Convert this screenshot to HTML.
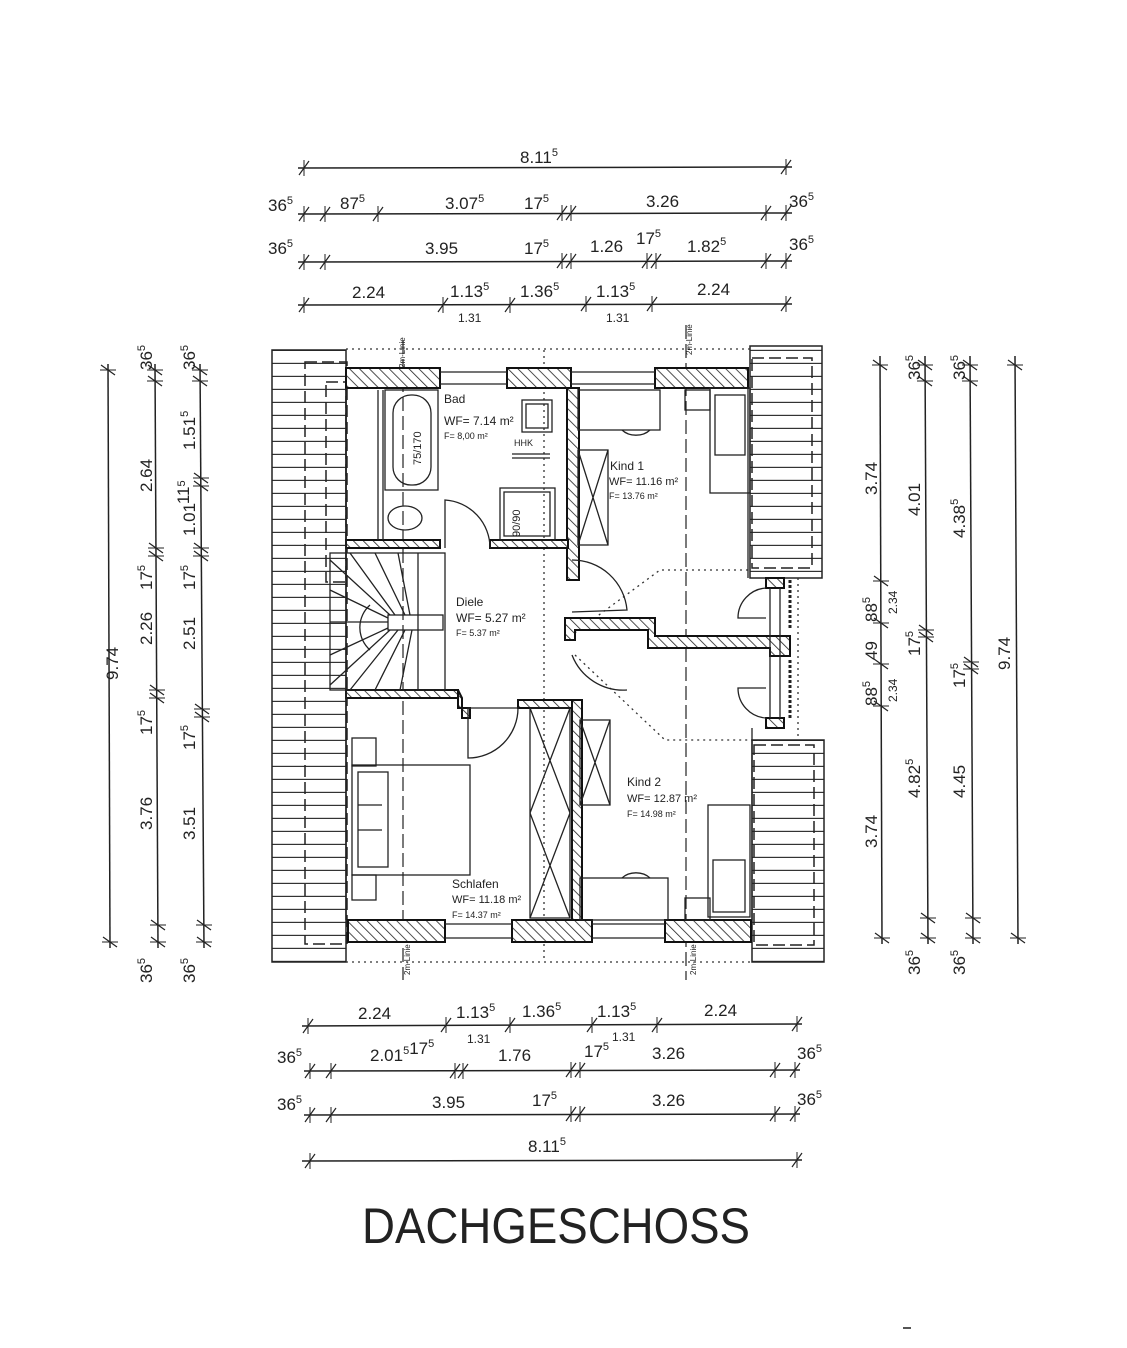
<!DOCTYPE html>
<html><head><meta charset="utf-8">
<style>
html,body{margin:0;padding:0;background:#fff;}
svg{display:block;}
text{font-family:"Liberation Sans",Arial,sans-serif;fill:#222;}
</style></head>
<body>
<svg width="1127" height="1348" viewBox="0 0 1127 1348" xmlns="http://www.w3.org/2000/svg">
<defs>
<pattern id="h" patternUnits="userSpaceOnUse" width="7" height="7" patternTransform="rotate(-45)">
<rect width="7" height="7" fill="#fff"/><line x1="0" y1="0" x2="0" y2="7" stroke="#222" stroke-width="1.6"/>
</pattern>
<pattern id="roof" patternUnits="userSpaceOnUse" width="10" height="13">
<rect width="10" height="13" fill="#fff"/><line x1="0" y1="12.5" x2="10" y2="12.5" stroke="#333" stroke-width="1.4"/>
</pattern>
<g id="tk"><line x1="-5" y1="7" x2="5" y2="-7" stroke="#222" stroke-width="1.2"/><line x1="0" y1="-8" x2="0" y2="8" stroke="#222" stroke-width="1"/></g>
<g id="tv"><line x1="-7" y1="-5" x2="7" y2="5" stroke="#222" stroke-width="1.2"/><line x1="-8" y1="0" x2="8" y2="0" stroke="#222" stroke-width="1"/></g>
</defs>

<g stroke="#222" stroke-width="1.5">
<line x1="298" y1="168" x2="792" y2="167"/>
<line x1="298" y1="214" x2="792" y2="213"/>
<line x1="298" y1="262" x2="792" y2="261"/>
<line x1="298" y1="305" x2="792" y2="304"/>
<line x1="302" y1="1026" x2="802" y2="1024"/>
<line x1="304" y1="1071" x2="800" y2="1070"/>
<line x1="304" y1="1115" x2="800" y2="1114"/>
<line x1="302" y1="1161" x2="802" y2="1160"/>
<line x1="108" y1="364" x2="110" y2="948"/>
<line x1="155" y1="364" x2="158" y2="948"/>
<line x1="200" y1="364" x2="204" y2="948"/>
<line x1="880" y1="356" x2="882" y2="944"/>
<line x1="925" y1="356" x2="928" y2="944"/>
<line x1="970" y1="356" x2="973" y2="944"/>
<line x1="1015" y1="356" x2="1018" y2="944"/>
</g>
<g>
<use href="#tk" x="304" y="168"/><use href="#tk" x="786" y="167"/>
<use href="#tk" x="304" y="214"/><use href="#tk" x="325" y="214"/><use href="#tk" x="378" y="214"/><use href="#tk" x="562" y="213"/><use href="#tk" x="571" y="213"/><use href="#tk" x="766" y="213"/><use href="#tk" x="786" y="213"/>
<use href="#tk" x="304" y="262"/><use href="#tk" x="325" y="262"/><use href="#tk" x="562" y="261"/><use href="#tk" x="571" y="261"/><use href="#tk" x="647" y="261"/><use href="#tk" x="656" y="261"/><use href="#tk" x="766" y="261"/><use href="#tk" x="786" y="261"/>
<use href="#tk" x="304" y="305"/><use href="#tk" x="443" y="305"/><use href="#tk" x="510" y="305"/><use href="#tk" x="586" y="304"/><use href="#tk" x="652" y="304"/><use href="#tk" x="786" y="304"/>
<use href="#tk" x="308" y="1026"/><use href="#tk" x="446" y="1025"/><use href="#tk" x="510" y="1025"/><use href="#tk" x="592" y="1025"/><use href="#tk" x="657" y="1025"/><use href="#tk" x="797" y="1024"/>
<use href="#tk" x="310" y="1071"/><use href="#tk" x="331" y="1071"/><use href="#tk" x="455" y="1071"/><use href="#tk" x="463" y="1071"/><use href="#tk" x="571" y="1070"/><use href="#tk" x="580" y="1070"/><use href="#tk" x="775" y="1070"/><use href="#tk" x="795" y="1070"/>
<use href="#tk" x="310" y="1115"/><use href="#tk" x="331" y="1115"/><use href="#tk" x="571" y="1114"/><use href="#tk" x="580" y="1114"/><use href="#tk" x="775" y="1114"/><use href="#tk" x="795" y="1114"/>
<use href="#tk" x="310" y="1161"/><use href="#tk" x="797" y="1160"/>
<use href="#tv" x="108" y="370"/><use href="#tv" x="110" y="942"/>
<use href="#tv" x="155" y="370"/><use href="#tv" x="155" y="381"/><use href="#tv" x="156" y="548"/><use href="#tv" x="156" y="556"/><use href="#tv" x="157" y="690"/><use href="#tv" x="157" y="698"/><use href="#tv" x="158" y="925"/><use href="#tv" x="158" y="942"/>
<use href="#tv" x="200" y="370"/><use href="#tv" x="200" y="381"/><use href="#tv" x="201" y="478"/><use href="#tv" x="201" y="486"/><use href="#tv" x="201" y="548"/><use href="#tv" x="201" y="556"/><use href="#tv" x="202" y="709"/><use href="#tv" x="202" y="717"/><use href="#tv" x="204" y="925"/><use href="#tv" x="204" y="942"/>
<use href="#tv" x="880" y="365"/><use href="#tv" x="881" y="581"/><use href="#tv" x="881" y="623"/><use href="#tv" x="881" y="664"/><use href="#tv" x="881" y="706"/><use href="#tv" x="882" y="938"/>
<use href="#tv" x="925" y="365"/><use href="#tv" x="925" y="381"/><use href="#tv" x="926" y="630"/><use href="#tv" x="926" y="637"/><use href="#tv" x="928" y="918"/><use href="#tv" x="928" y="938"/>
<use href="#tv" x="970" y="365"/><use href="#tv" x="970" y="381"/><use href="#tv" x="971" y="662"/><use href="#tv" x="971" y="669"/><use href="#tv" x="973" y="918"/><use href="#tv" x="973" y="938"/>
<use href="#tv" x="1015" y="365"/><use href="#tv" x="1018" y="938"/>
</g>

<g font-size="17">
<text x="520" y="163">8.11<tspan font-size="11" dy="-7">5</tspan></text>
<text x="268" y="211">36<tspan font-size="11" dy="-7">5</tspan></text>
<text x="340" y="209">87<tspan font-size="11" dy="-7">5</tspan></text>
<text x="445" y="209">3.07<tspan font-size="11" dy="-7">5</tspan></text>
<text x="524" y="209">17<tspan font-size="11" dy="-7">5</tspan></text>
<text x="646" y="207">3.26</text>
<text x="789" y="207">36<tspan font-size="11" dy="-7">5</tspan></text>
<text x="268" y="254">36<tspan font-size="11" dy="-7">5</tspan></text>
<text x="425" y="254">3.95</text>
<text x="524" y="254">17<tspan font-size="11" dy="-7">5</tspan></text>
<text x="590" y="252">1.26</text>
<text x="636" y="244">17<tspan font-size="11" dy="-7">5</tspan></text>
<text x="687" y="252">1.82<tspan font-size="11" dy="-7">5</tspan></text>
<text x="789" y="250">36<tspan font-size="11" dy="-7">5</tspan></text>
<text x="352" y="298">2.24</text>
<text x="450" y="297">1.13<tspan font-size="11" dy="-7">5</tspan></text>
<text x="520" y="297">1.36<tspan font-size="11" dy="-7">5</tspan></text>
<text x="596" y="297">1.13<tspan font-size="11" dy="-7">5</tspan></text>
<text x="697" y="295">2.24</text>
<text x="458" y="322" font-size="12">1.31</text>
<text x="606" y="322" font-size="12">1.31</text>

<text x="358" y="1019">2.24</text>
<text x="456" y="1018">1.13<tspan font-size="11" dy="-7">5</tspan></text>
<text x="522" y="1017">1.36<tspan font-size="11" dy="-7">5</tspan></text>
<text x="597" y="1017">1.13<tspan font-size="11" dy="-7">5</tspan></text>
<text x="704" y="1016">2.24</text>
<text x="467" y="1043" font-size="12">1.31</text>
<text x="612" y="1041" font-size="12">1.31</text>
<text x="277" y="1063">36<tspan font-size="11" dy="-7">5</tspan></text>
<text x="370" y="1061">2.01<tspan font-size="11" dy="-7">5</tspan>17<tspan font-size="11" dy="-7">5</tspan></text>
<text x="498" y="1061">1.76</text>
<text x="584" y="1057">17<tspan font-size="11" dy="-7">5</tspan></text>
<text x="652" y="1059">3.26</text>
<text x="797" y="1059">36<tspan font-size="11" dy="-7">5</tspan></text>
<text x="277" y="1110">36<tspan font-size="11" dy="-7">5</tspan></text>
<text x="432" y="1108">3.95</text>
<text x="532" y="1106">17<tspan font-size="11" dy="-7">5</tspan></text>
<text x="652" y="1106">3.26</text>
<text x="797" y="1105">36<tspan font-size="11" dy="-7">5</tspan></text>
<text x="528" y="1152">8.11<tspan font-size="11" dy="-7">5</tspan></text>
</g>

<!-- rotated left labels -->
<g font-size="17">
<text transform="translate(118,680) rotate(-90)">9.74</text>
<text transform="translate(152,370) rotate(-90)">36<tspan font-size="11" dy="-7">5</tspan></text>
<text transform="translate(152,492) rotate(-90)">2.64</text>
<text transform="translate(152,590) rotate(-90)">17<tspan font-size="11" dy="-7">5</tspan></text>
<text transform="translate(152,645) rotate(-90)">2.26</text>
<text transform="translate(152,735) rotate(-90)">17<tspan font-size="11" dy="-7">5</tspan></text>
<text transform="translate(152,830) rotate(-90)">3.76</text>
<text transform="translate(152,983) rotate(-90)">36<tspan font-size="11" dy="-7">5</tspan></text>
<text transform="translate(195,370) rotate(-90)">36<tspan font-size="11" dy="-7">5</tspan></text>
<text transform="translate(195,450) rotate(-90)">1.51<tspan font-size="11" dy="-7">5</tspan></text>
<text transform="translate(195,536) rotate(-90)">1.01<tspan dy="-6">11</tspan><tspan font-size="11" dy="-4">5</tspan></text>
<text transform="translate(195,590) rotate(-90)">17<tspan font-size="11" dy="-7">5</tspan></text>
<text transform="translate(195,650) rotate(-90)">2.51</text>
<text transform="translate(195,750) rotate(-90)">17<tspan font-size="11" dy="-7">5</tspan></text>
<text transform="translate(195,840) rotate(-90)">3.51</text>
<text transform="translate(195,983) rotate(-90)">36<tspan font-size="11" dy="-7">5</tspan></text>

<text transform="translate(877,495) rotate(-90)">3.74</text>
<text transform="translate(877,622) rotate(-90)">88<tspan font-size="11" dy="-7">5</tspan></text>
<text transform="translate(877,660) rotate(-90)">49</text>
<text transform="translate(877,706) rotate(-90)">88<tspan font-size="11" dy="-7">5</tspan></text>
<text transform="translate(897,614) rotate(-90)" font-size="12">2.34</text>
<text transform="translate(897,702) rotate(-90)" font-size="12">2.34</text>
<text transform="translate(877,848) rotate(-90)">3.74</text>
<text transform="translate(920,380) rotate(-90)">36<tspan font-size="11" dy="-7">5</tspan></text>
<text transform="translate(920,516) rotate(-90)">4.01</text>
<text transform="translate(920,656) rotate(-90)">17<tspan font-size="11" dy="-7">5</tspan></text>
<text transform="translate(920,798) rotate(-90)">4.82<tspan font-size="11" dy="-7">5</tspan></text>
<text transform="translate(920,975) rotate(-90)">36<tspan font-size="11" dy="-7">5</tspan></text>
<text transform="translate(965,380) rotate(-90)">36<tspan font-size="11" dy="-7">5</tspan></text>
<text transform="translate(965,538) rotate(-90)">4.38<tspan font-size="11" dy="-7">5</tspan></text>
<text transform="translate(965,688) rotate(-90)">17<tspan font-size="11" dy="-7">5</tspan></text>
<text transform="translate(965,798) rotate(-90)">4.45</text>
<text transform="translate(965,975) rotate(-90)">36<tspan font-size="11" dy="-7">5</tspan></text>
<text transform="translate(1010,670) rotate(-90)">9.74</text>
</g>

<!-- roof blocks -->
<g stroke="#222" stroke-width="1.5">
<rect x="272" y="350" width="74" height="612" fill="url(#roof)"/>
<rect x="750" y="346" width="72" height="232" fill="url(#roof)"/>
<rect x="752" y="740" width="72" height="222" fill="url(#roof)"/>
</g>
<!-- dashed outlines -->
<g fill="none" stroke="#222" stroke-width="1.5" stroke-dasharray="12,5">
<rect x="305" y="362" width="42" height="582"/>
<rect x="326" y="382" width="20" height="200"/>
<rect x="752" y="358" width="60" height="210"/>
<rect x="754" y="745" width="60" height="200"/>
</g>
<g fill="none" stroke="#333" stroke-width="1.3" stroke-dasharray="2,4">
<line x1="346" y1="349" x2="750" y2="349"/>
<line x1="346" y1="962" x2="752" y2="962"/>
<line x1="544" y1="350" x2="544" y2="960"/>
<line x1="798" y1="578" x2="798" y2="740"/>
<polyline points="565,640 660,570 752,570"/>
<polyline points="575,655 665,740 760,740"/>
</g>
<g fill="none" stroke="#222" stroke-width="1.2" stroke-dasharray="14,5">
<line x1="403" y1="340" x2="403" y2="980"/>
<line x1="686" y1="325" x2="686" y2="980"/>
</g>
<text transform="translate(405,368) rotate(-90)" font-size="8">2m-Linie</text>
<text transform="translate(692,355) rotate(-90)" font-size="8">2m-Linie</text>
<text transform="translate(410,975) rotate(-90)" font-size="8">2m-Linie</text>
<text transform="translate(696,975) rotate(-90)" font-size="8">2m-Linie</text>

<!-- walls -->
<g stroke="#111" stroke-width="2" fill="url(#h)">
<rect x="346" y="368" width="94" height="20"/>
<rect x="507" y="368" width="64" height="20"/>
<rect x="655" y="368" width="93" height="20"/>
<rect x="348" y="920" width="97" height="22"/>
<rect x="512" y="920" width="80" height="22"/>
<rect x="665" y="920" width="86" height="22"/>
<rect x="567" y="388" width="12" height="192"/>
<rect x="572" y="700" width="10" height="220"/>
<rect x="346" y="540" width="94" height="8"/>
<rect x="490" y="540" width="78" height="8"/>
<rect x="346" y="690" width="112" height="8"/>
<polygon points="458,690 458,708 470,708 470,718 462,718 462,698"/>
<rect x="518" y="700" width="54" height="8"/>
<polygon points="565,618 655,618 655,636 790,636 790,656 770,656 770,648 648,648 648,630 575,630 575,640 565,640"/>
<rect x="766" y="578" width="18" height="10"/>
<rect x="766" y="718" width="18" height="10"/>
</g>
<g stroke="#222" stroke-width="1.3" fill="none">
<line x1="440" y1="372" x2="507" y2="372"/><line x1="440" y1="384" x2="507" y2="384"/>
<line x1="571" y1="372" x2="655" y2="372"/><line x1="571" y1="384" x2="655" y2="384"/>
<line x1="445" y1="924" x2="512" y2="924"/><line x1="445" y1="938" x2="512" y2="938"/>
<line x1="592" y1="924" x2="665" y2="924"/><line x1="592" y1="938" x2="665" y2="938"/>
<line x1="346" y1="388" x2="346" y2="920" stroke-width="1.5"/>
<line x1="748" y1="388" x2="748" y2="578"/><line x1="752" y1="728" x2="752" y2="920"/>
<line x1="770" y1="588" x2="770" y2="718"/><line x1="780" y1="588" x2="780" y2="718"/>
<line x1="378" y1="390" x2="378" y2="540"/><line x1="383" y1="390" x2="383" y2="540"/>
<!-- tub -->
<rect x="385" y="390" width="53" height="100"/>
<rect x="393" y="395" width="38" height="90" rx="18"/>
<ellipse cx="405" cy="518" rx="17" ry="12"/>
<!-- sink -->
<rect x="522" y="400" width="30" height="32"/><rect x="526" y="404" width="22" height="24"/>
<line x1="512" y1="454" x2="550" y2="454"/><line x1="512" y1="458" x2="550" y2="458"/>
<rect x="500" y="488" width="55" height="52"/><rect x="504" y="492" width="46" height="44"/>
<!-- stairs -->
<rect x="330" y="553" width="115" height="137"/>
<line x1="418" y1="553" x2="418" y2="690"/>
<rect x="388" y="615" width="55" height="15"/>
<path d="M370,605 A30,30 0 0 0 370,650 M330,560 L390,615 M350,553 L395,615 M375,553 L405,615 M398,553 L410,615 M330,590 L388,618 M330,622 L388,622 M330,655 L388,628 M330,685 L390,630 M350,690 L398,630 M375,690 L405,630 M400,690 L412,630"/>
<!-- doors -->
<path d="M445,548 L445,500 A48,48 0 0 1 490,548"/>
<path d="M518,708 A50,50 0 0 1 468,758 L468,708 Z" fill="none"/>
<path d="M572,560 A55,55 0 0 1 627,610 L572,612"/>
<path d="M572,655 A55,55 0 0 0 627,690"/>
<path d="M766,588 A30,30 0 0 0 738,618 L766,618"/>
<path d="M766,718 A30,30 0 0 1 738,688 L766,688"/>
<line x1="790" y1="580" x2="790" y2="630" stroke-width="3" stroke-dasharray="3,2"/>
<line x1="790" y1="660" x2="790" y2="720" stroke-width="3" stroke-dasharray="3,2"/>
<!-- wardrobes -->
<rect x="578" y="450" width="30" height="95"/><path d="M578,450 L608,545 M608,450 L578,545"/>
<rect x="530" y="708" width="40" height="210"/><path d="M530,708 L570,813 M570,708 L530,813 M530,813 L570,918 M570,813 L530,918"/>
<rect x="580" y="720" width="30" height="85"/><path d="M580,720 L610,805 M610,720 L580,805"/>
<!-- Kind1 furniture -->
<rect x="578" y="390" width="82" height="40"/>
<path d="M622,430 A18,14 0 0 0 650,430"/>
<rect x="685" y="390" width="25" height="20"/>
<rect x="710" y="388" width="40" height="105"/><rect x="715" y="395" width="30" height="60"/>
<!-- Kind2 -->
<rect x="580" y="878" width="88" height="42"/>
<path d="M622,878 A18,14 0 0 1 650,878"/>
<rect x="685" y="898" width="25" height="22"/>
<rect x="708" y="805" width="42" height="112"/><rect x="713" y="860" width="32" height="52"/>
<!-- Schlafen bed -->
<rect x="352" y="738" width="24" height="28"/>
<rect x="352" y="765" width="118" height="110"/>
<rect x="358" y="772" width="30" height="95"/>
<path d="M358,805 L382,805 M358,830 L382,830"/>
<rect x="352" y="875" width="24" height="25"/>
</g>
<g font-size="11">
<text transform="translate(421,465) rotate(-90)">75/170</text>
<text transform="translate(520,537) rotate(-90)">90/90</text>
<text x="514" y="446" font-size="9">HHK</text>
</g>
<g>
<text x="444" y="403" font-size="12">Bad</text>
<text x="444" y="425" font-size="12">WF= 7.14 m²</text>
<text x="444" y="439" font-size="9">F= 8,00 m²</text>
<text x="610" y="470" font-size="12">Kind 1</text>
<text x="609" y="485" font-size="11">WF= 11.16 m²</text>
<text x="609" y="499" font-size="9">F= 13.76 m²</text>
<text x="456" y="606" font-size="12">Diele</text>
<text x="456" y="622" font-size="12">WF= 5.27 m²</text>
<text x="456" y="636" font-size="9">F= 5.37 m²</text>
<text x="627" y="786" font-size="12">Kind 2</text>
<text x="627" y="802" font-size="11">WF= 12.87 m²</text>
<text x="627" y="817" font-size="9">F= 14.98 m²</text>
<text x="452" y="888" font-size="12">Schlafen</text>
<text x="452" y="903" font-size="11">WF= 11.18 m²</text>
<text x="452" y="918" font-size="9">F= 14.37 m²</text>
</g>

<text x="362" y="1243" font-size="50" textLength="388" lengthAdjust="spacingAndGlyphs" style="font-family:'Liberation Sans Narrow','Liberation Sans',sans-serif">DACHGESCHOSS</text>
<line x1="903" y1="1328" x2="911" y2="1328" stroke="#555" stroke-width="2"/>
</svg>
</body></html>
